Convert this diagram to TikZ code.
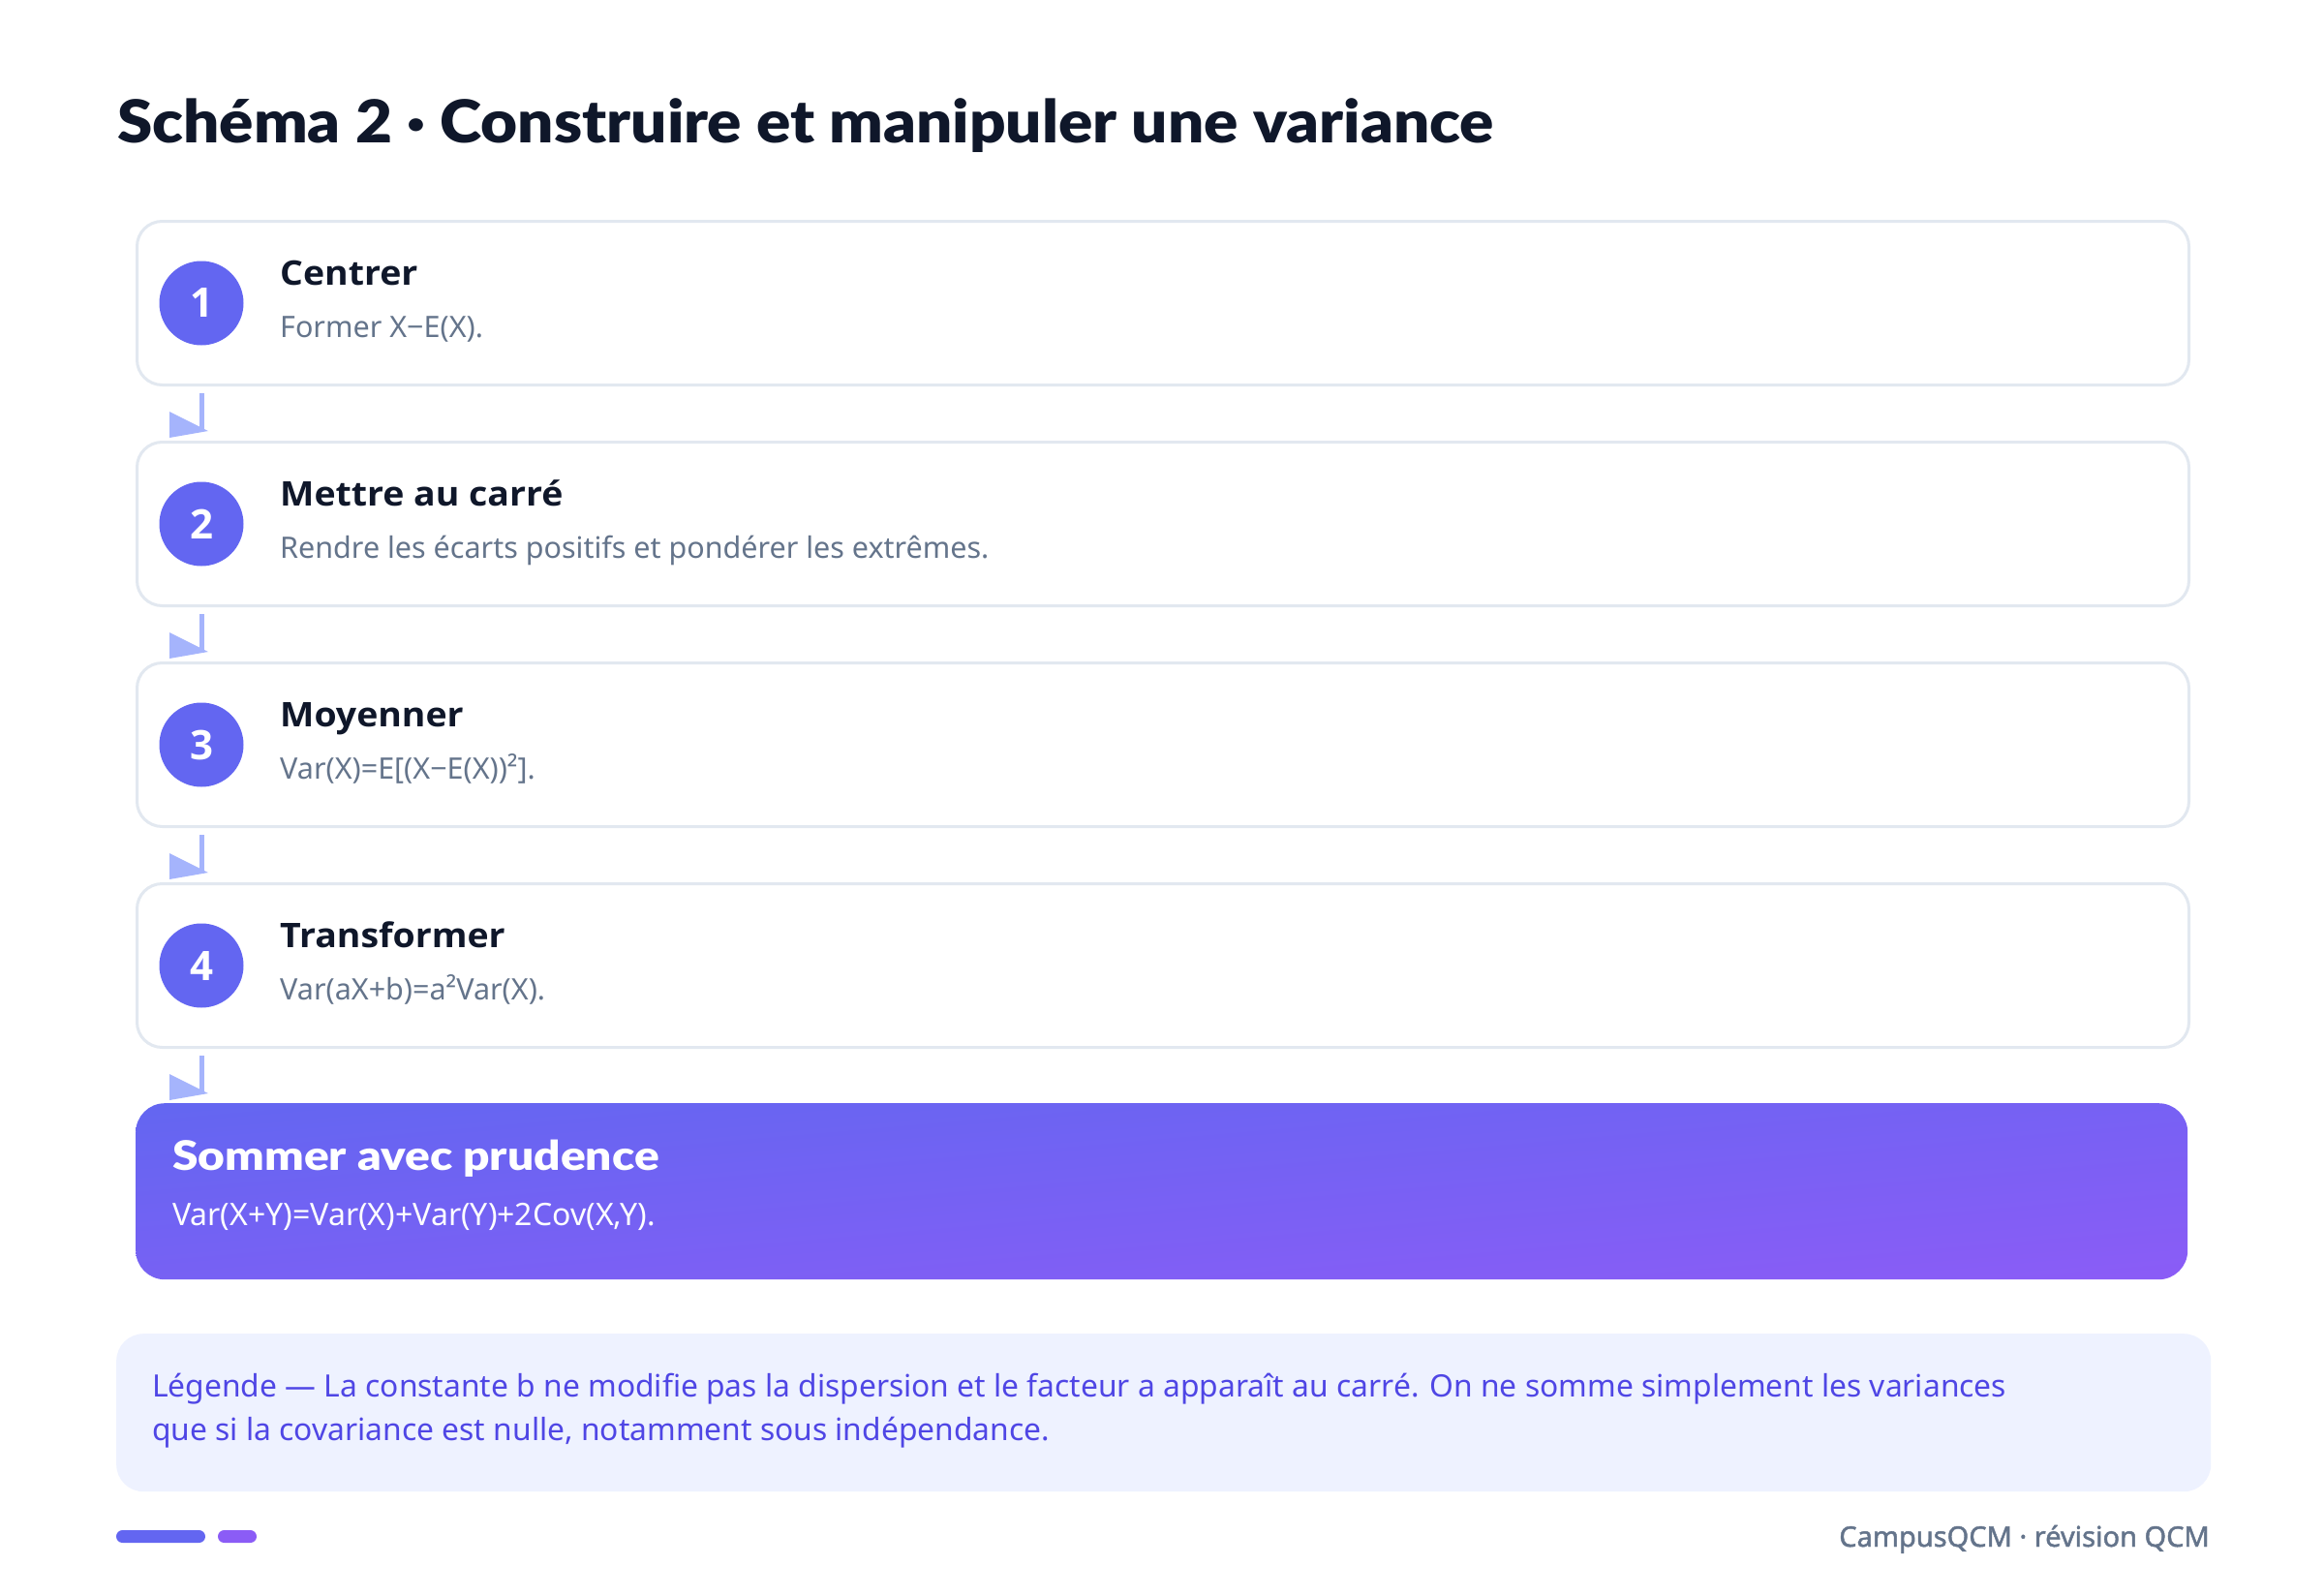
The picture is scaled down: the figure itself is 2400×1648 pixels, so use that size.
\documentclass[tikz,border=0pt]{standalone}
\usepackage{graphicx}
\usepackage{fontspec}
\setmainfont{Noto Sans}
\IfFontExistsTF{Open Sans ExtraBold}{\newfontfamily\heavyfont{Open Sans ExtraBold}}{%
 \IfFontExistsTF{Lato Black}{\newfontfamily\heavyfont{Lato Black}}{%
  \IfFontExistsTF{Fira Sans Black}{\newfontfamily\heavyfont{Fira Sans Black}}{%
   \newfontfamily\heavyfont{Noto Sans}[FakeBold=4]}}}
\IfFontExistsTF{Open Sans Bold}{\newfontfamily\boldfont{Open Sans Bold}}{%
 \IfFontExistsTF{Lato Bold}{\newfontfamily\boldfont{Lato Bold}}{%
   \newfontfamily\boldfont{Noto Sans}[FakeBold=2.5]}}
\newfontfamily\semifont{Noto Sans}[FakeBold=1.5]
\usetikzlibrary{calc,shadings}
\definecolor{ink}{HTML}{0F172A}
\definecolor{muted}{HTML}{64748B}
\definecolor{bordc}{HTML}{E2E8F0}
\definecolor{indigoc}{HTML}{6366F1}
\definecolor{violetc}{HTML}{8B5CF6}
\definecolor{connc}{HTML}{A5B4FC}
\definecolor{legbg}{HTML}{EEF2FF}
\definecolor{legtext}{HTML}{4F46E5}
\newcommand\stepconn[3]{%
  \coordinate (#1s) at (#3 |- #1.south);
  \coordinate (#2n) at (#3 |- #2.north);
  \draw[connline] ([yshift=-7pt]#1s) -- ([yshift=10pt]#2n);
  \fill[connc] ([shift={(7pt,10pt)}]#2n) -- ([shift={(-33pt,30pt)}]#2n) -- ([shift={(-33pt,3pt)}]#2n) -- cycle;}
\newcommand\wide[2]{\scalebox{#1}[1]{#2}}
\begin{document}
\begin{tikzpicture}[x=1pt,y=-1pt,
  stepbox/.style={draw=bordc, line width=3pt, fill=white, rounded corners=26pt,
    minimum width=2119pt, minimum height=169pt, anchor=north west, inner sep=0pt},
  finalbox/.style={rounded corners=30pt, minimum width=2119pt, minimum height=182pt,
    anchor=north west, inner sep=0pt, shade, upper left=indigoc,
    upper right=indigoc!50!violetc, lower left=indigoc!50!violetc, lower right=violetc},
  badge/.style={circle, fill=indigoc, minimum size=87pt, inner sep=0pt, text=white,
    font=\boldfont\fontsize{42}{44}\selectfont},
  steptitle/.style={anchor=base west, inner sep=0pt, text=ink, font=\boldfont\fontsize{35}{38}\selectfont},
  stepdesc/.style={anchor=base west, inner sep=0pt, text=muted, font=\fontsize{30.5}{34}\selectfont},
  connline/.style={draw=connc, line width=5pt},
  legtxt/.style={anchor=base west, inner sep=0pt, text=legtext, font=\fontsize{31.8}{40}\selectfont}
  ]
\useasboundingbox (0,0) rectangle (2400,1648);
\fill[white] (0,0) rectangle (2400,1648);

\node[anchor=base west, inner sep=0pt, text=ink, font=\heavyfont\fontsize{61}{70}\selectfont]
  (title) at (121,148) {\wide{1.075}{Schéma 2 · Construire et manipuler une variance}};

% steps
\node[stepbox] (b1) at (140,227) {};
\node[stepbox] (b2) at (140,455) {};
\node[stepbox] (b3) at (140,683) {};
\node[stepbox] (b4) at (140,911) {};
\node[finalbox] (b5) at (140,1139) {};

\node[badge] (n1) at ([xshift=68pt]b1.west) {1};
\node[badge] (n2) at ([xshift=68pt]b2.west) {2};
\node[badge] (n3) at ([xshift=68pt]b3.west) {3};
\node[badge] (n4) at ([xshift=68pt]b4.west) {4};

\node[steptitle] (t1) at ($(b1.north west)+(149pt,-67pt)$) {\wide{1.07}{Centrer}};
\node[stepdesc] (d1) at ($(b1.north west)+(149pt,-121pt)$) {Former X−E(X).};
\node[steptitle] (t2) at ($(b2.north west)+(149pt,-67pt)$) {\wide{1.07}{Mettre au carré}};
\node[stepdesc] (d2) at ($(b2.north west)+(149pt,-121pt)$) {Rendre les écarts positifs et pondérer les extrêmes.};
\node[steptitle] (t3) at ($(b3.north west)+(149pt,-67pt)$) {\wide{1.07}{Moyenner}};
\node[stepdesc] (d3) at ($(b3.north west)+(149pt,-121pt)$) {Var(X)=E[(X−E(X))²].};
\node[steptitle] (t4) at ($(b4.north west)+(149pt,-67pt)$) {\wide{1.07}{Transformer}};
\node[stepdesc] (d4) at ($(b4.north west)+(149pt,-121pt)$) {Var(aX+b)=a²Var(X).};

\node[anchor=base west, inner sep=0pt, text=white, font=\heavyfont\fontsize{42}{46}\selectfont]
  (t5) at ($(b5.north west)+(38pt,-69pt)$) {\wide{1.14}{Sommer avec prudence}};
\node[anchor=base west, inner sep=0pt, text=white, font=\fontsize{32}{36}\selectfont]
  (d5) at ($(b5.north west)+(38pt,-126pt)$) {Var(X+Y)=Var(X)+Var(Y)+2Cov(X,Y).};

% connectors
\stepconn{b1}{b2}{n1}
\stepconn{b2}{b3}{n2}
\stepconn{b3}{b4}{n3}
\stepconn{b4}{b5}{n4}

% legend
\node[fill=legbg, rounded corners=28pt, minimum width=2163pt, minimum height=163pt,
  anchor=north west, inner sep=0pt] (leg) at (120,1377) {};
\node[legtxt] (l1) at (157,1442) {Légende — La constante b ne modifie pas la dispersion et le facteur a apparaît au carré. On ne somme simplement les variances};
\node[legtxt] (l2) at (157,1487) {que si la covariance est nulle, notamment sous indépendance.};

% footer
\fill[indigoc, rounded corners=6.5pt] (120,1580) rectangle (212,1593);
\fill[violetc, rounded corners=6.5pt] (225,1580) rectangle (265,1593);
\node[anchor=base east, inner sep=0pt, text=muted, font=\semifont\fontsize{29}{32}\selectfont]
  (foot) at (2282,1597) {CampusQCM · révision QCM};
\end{tikzpicture}
\end{document}
